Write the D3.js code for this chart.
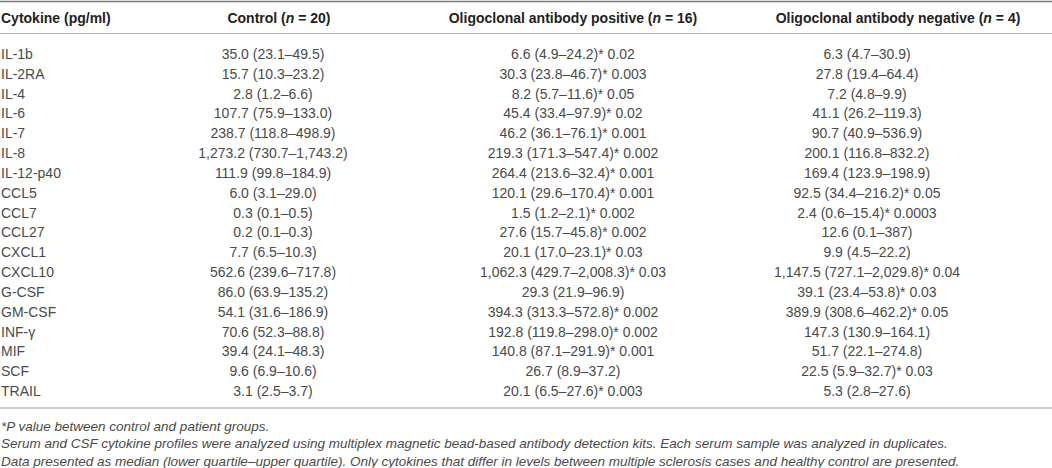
<!DOCTYPE html>
<html>
<head>
<meta charset="utf-8">
<script src="https://cdn.jsdelivr.net/npm/d3@7"></script>
<style>
  html, body { margin: 0; padding: 0; background: #fff; }
  svg { display: block; font-family: "Liberation Sans", Arial, sans-serif; }
</style>
</head>
<body>
<svg id="chart" width="1052" height="468"></svg>
<script>
// ---- data ----
const cytokines = ["IL-1b","IL-2RA","IL-4","IL-6","IL-7","IL-8","IL-12-p40","CCL5","CCL7","CCL27","CXCL1","CXCL10","G-CSF","GM-CSF","INF-\u03b3","MIF","SCF","TRAIL"];

const controlMedian = [35.0,15.7,2.8,107.7,238.7,1273.2,111.9,6.0,0.3,0.2,7.7,562.6,86.0,54.1,70.6,39.4,9.6,3.1];
const controlLow    = [23.1,10.3,1.2,75.9,118.8,730.7,99.8,3.1,0.1,0.1,6.5,239.6,63.9,31.6,52.3,24.1,6.9,2.5];
const controlHigh   = [49.5,23.2,6.6,133.0,498.9,1743.2,184.9,29.0,0.5,0.3,10.3,717.8,135.2,186.9,88.8,48.3,10.6,3.7];

const posMedian = [6.6,30.3,8.2,45.4,46.2,219.3,264.4,120.1,1.5,27.6,20.1,1062.3,29.3,394.3,192.8,140.8,26.7,20.1];
const posLow    = [4.9,23.8,5.7,33.4,36.1,171.3,213.6,29.6,1.2,15.7,17.0,429.7,21.9,313.3,119.8,87.1,8.9,6.5];
const posHigh   = [24.2,46.7,11.6,97.9,76.1,547.4,32.4,170.4,2.1,45.8,23.1,2008.3,96.9,572.8,298.0,291.9,37.2,27.6];
const posP      = ["0.02","0.003","0.05","0.02","0.001","0.002","0.001","0.001","0.002","0.002","0.03","0.03",null,"0.002","0.002","0.001",null,"0.003"];

const negMedian = [6.3,27.8,7.2,41.1,90.7,200.1,169.4,92.5,2.4,12.6,9.9,1147.5,39.1,389.9,147.3,51.7,22.5,5.3];
const negLow    = [4.7,19.4,4.8,26.2,40.9,116.8,123.9,34.4,0.6,0.1,4.5,727.1,23.4,308.6,130.9,22.1,5.9,2.8];
const negHigh   = [30.9,64.4,9.9,119.3,536.9,832.2,198.9,216.2,15.4,"387",22.2,2029.8,53.8,462.2,164.1,274.8,32.7,27.6];
const negP      = [null,null,null,null,null,null,null,"0.05","0.0003",null,null,"0.04","0.03","0.05",null,null,"0.03",null];

const headers = [
  [{t:"Cytokine (pg/ml)"}],
  [{t:"Control ("},{t:"n",i:true},{t:" = 20)"}],
  [{t:"Oligoclonal antibody positive ("},{t:"n",i:true},{t:" = 16)"}],
  [{t:"Oligoclonal antibody negative ("},{t:"n",i:true},{t:" = 4)"}]
];

const footnotes = [
  "*P value between control and patient groups.",
  "Serum and CSF cytokine profiles were analyzed using multiplex magnetic bead-based antibody detection kits. Each serum sample was analyzed in duplicates.",
  "Data presented as median (lower quartile\u2013upper quartile). Only cytokines that differ in levels between multiple sclerosis cases and healthy control are presented."
];

// ---- formatting ----
const f1 = d3.format(",.1f");
const fv = v => typeof v === "string" ? v : f1(v);
function cell(m, lo, hi, p) {
  return fv(m) + " (" + fv(lo) + "\u2013" + fv(hi) + ")" + (p ? "* " + p : "");
}
const rows = cytokines.map((c, i) => [
  c,
  cell(controlMedian[i], controlLow[i], controlHigh[i], null),
  cell(posMedian[i], posLow[i], posHigh[i], posP[i]),
  cell(negMedian[i], negLow[i], negHigh[i], negP[i])
]);

// ---- layout ----
const svg = d3.select("#chart");
const W = 1052;

const y = d3.scalePoint().domain(d3.range(cytokines.length)).range([54, 391]);
const colX = d3.scaleOrdinal().domain([0,1,2,3]).range([1, 273, 573, 867]);
const headX = d3.scaleOrdinal().domain([0,1,2,3]).range([1, 279, 573, 898]);
const anchor = j => j === 0 ? "start" : "middle";

// rules
svg.append("line").attr("x1",0).attr("x2",W).attr("y1",1.5).attr("y2",1.5)
  .attr("stroke","#777").attr("stroke-width",1.5);
svg.append("line").attr("x1",0).attr("x2",W).attr("y1",33.5).attr("y2",33.5)
  .attr("stroke","#b0b0b0").attr("stroke-width",1);
svg.append("line").attr("x1",0).attr("x2",W).attr("y1",408).attr("y2",408)
  .attr("stroke","#999").attr("stroke-width",1.2);

// header
const hg = svg.append("g");
headers.forEach((parts, j) => {
  const t = hg.append("text")
    .attr("x", headX(j)).attr("y", 23)
    .attr("text-anchor", anchor(j))
    .attr("font-size", 14).attr("font-weight", "bold").attr("fill", "#222");
  parts.forEach(p => t.append("tspan").attr("font-style", p.i ? "italic" : null).text(p.t));
});

// body
const rg = svg.append("g").selectAll("g").data(rows).join("g")
  .attr("transform", (d, i) => `translate(0,${y(i) + 5})`);
rg.selectAll("text").data(d => d).join("text")
  .attr("x", (d, j) => colX(j))
  .attr("text-anchor", (d, j) => anchor(j))
  .attr("font-size", 14).attr("fill", "#4a4a4a")
  .text(d => d);

// footnotes
const fy = d3.scalePoint().domain(d3.range(footnotes.length)).range([430.5, 466]);
svg.append("g").selectAll("text").data(footnotes).join("text")
  .attr("x", 1).attr("y", (d, i) => fy(i))
  .attr("font-size", 13.5).attr("font-style", "italic").attr("fill", "#4a4a4a")
  .text(d => d);
</script>
</body>
</html>
